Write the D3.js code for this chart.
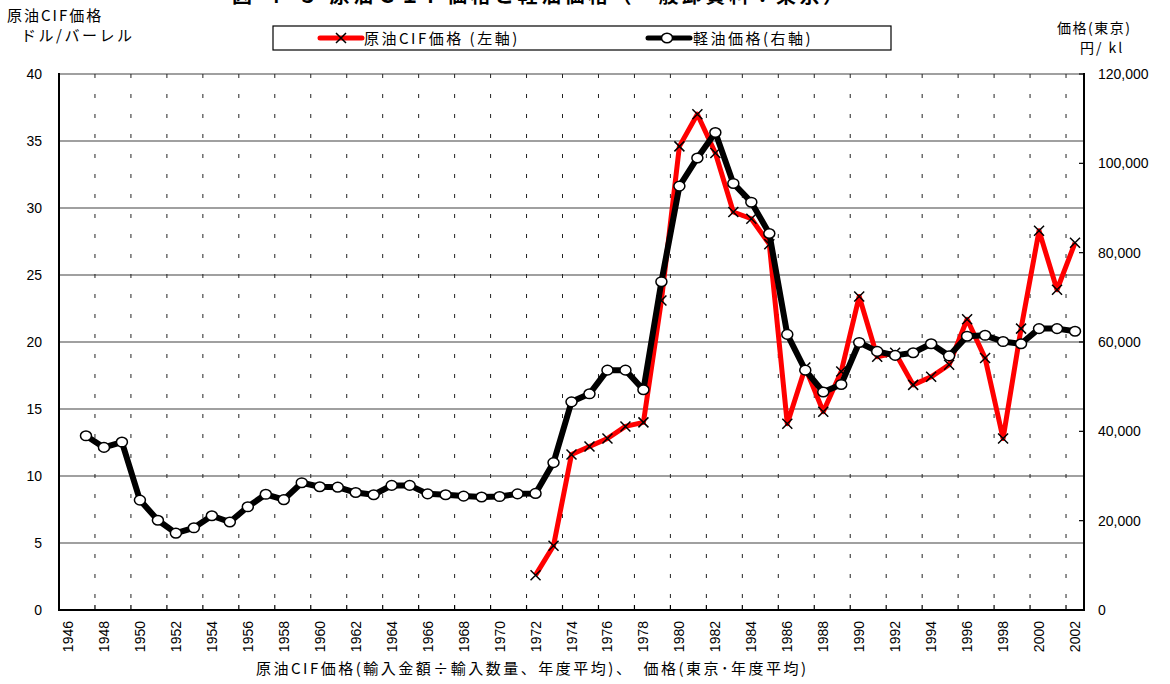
<!DOCTYPE html>
<html lang="ja">
<head>
<meta charset="UTF-8">
<title>原油CIF価格と軽油価格</title>
<style>
  body { margin: 0; background: #fff; }
  .jp { font-family: "Noto Sans CJK JP", sans-serif; fill: #000; }
  .num { font-family: "Liberation Sans", Arial, sans-serif; fill: #000; font-size: 14px; }
</style>
</head>
<body>
<svg id="chart" width="1170" height="684"></svg>
<script src="https://d3js.org/d3.v7.min.js"></script>
<script>
// categories: fiscal years 1946-2002
var years = d3.range(1946, 2003);

// 原油CIF価格 (ドル/バーレル, left axis), 1972-2002
var crudeYears = d3.range(1972, 2003);
var crudeValues = [2.6, 4.8, 11.6, 12.2, 12.8, 13.7, 14.0, 23.1, 34.6, 37.0,
    34.1, 29.7, 29.2, 27.3, 13.9, 18.1, 14.8, 17.8, 23.4, 18.9,
    19.2, 16.8, 17.4, 18.3, 21.7, 18.8, 12.8, 21.0, 28.3, 23.9, 27.4];

// 軽油価格 (円/kl, right axis), 1947-2002
var dieselYears = d3.range(1947, 2003);
var dieselValues = [39000, 36400, 37600, 24600, 20100, 17200, 18400, 21100, 19700, 23100,
    25900, 24700, 28500, 27600, 27500, 26300, 25800, 27900, 27900, 26000,
    25800, 25500, 25300, 25400, 26000, 26100, 33000, 46600, 48400, 53700,
    53700, 49300, 73500, 94900, 101200, 106900, 95500, 91300, 84300, 61700,
    53700, 48800, 50500, 59900, 57900, 57000, 57600, 59600, 56900, 61300,
    61500, 60100, 59600, 63000, 63000, 62400];

var leftTicks = [0, 5, 10, 15, 20, 25, 30, 35, 40];
var rightTicks = [0, 20000, 40000, 60000, 80000, 100000, 120000];

var svg = d3.select("#chart");
var plotL = 59, plotR = 1084, plotT = 74, plotB = 610;

var x = d3.scaleBand().domain(years).range([plotL, plotR]).padding(0);
var yL = d3.scaleLinear().domain([0, 40]).range([plotB, plotT]);
var yR = d3.scaleLinear().domain([0, 120000]).range([plotB, plotT]);
var cx = d => x(d) + x.bandwidth() / 2;

// title (cut off at the top edge)
svg.append("text").attr("class", "jp")
    .attr("x", 232).attr("y", 3)
    .style("font-size", "20px").style("font-weight", "bold").style("letter-spacing", "3.5px")
    .text("図 ４-５ 原油ＣＩＦ価格と軽油価格（一般卸資料：東京）");

// horizontal grid
svg.append("g").selectAll("line")
    .data(leftTicks.filter(d => d > 0))
    .enter().append("line")
    .attr("x1", plotL).attr("x2", plotR)
    .attr("y1", d => yL(d)).attr("y2", d => yL(d))
    .attr("stroke", "#808080").attr("stroke-width", 1.5);

// vertical dashed grid every two years
var evenYears = years.filter((d, i) => i % 2 === 0);
svg.append("g").selectAll("line")
    .data(evenYears.slice(1))
    .enter().append("line")
    .attr("x1", d => x(d)).attr("x2", d => x(d))
    .attr("y1", plotT).attr("y2", plotB)
    .attr("stroke", "#222").attr("stroke-width", 1)
    .attr("stroke-dasharray", "4,16");

// axes lines
svg.append("line").attr("x1", plotL).attr("x2", plotL).attr("y1", plotT - 1).attr("y2", plotB + 1)
    .attr("stroke", "#000").attr("stroke-width", 2);
svg.append("line").attr("x1", plotR).attr("x2", plotR).attr("y1", plotT - 1).attr("y2", plotB + 1)
    .attr("stroke", "#000").attr("stroke-width", 2);
svg.append("line").attr("x1", plotL).attr("x2", plotR).attr("y1", plotB).attr("y2", plotB)
    .attr("stroke", "#000").attr("stroke-width", 2);

// bottom tick marks (inside)
svg.append("g").selectAll("line")
    .data(evenYears)
    .enter().append("line")
    .attr("x1", d => x(d)).attr("x2", d => x(d))
    .attr("y1", plotB).attr("y2", plotB - 5)
    .attr("stroke", "#000").attr("stroke-width", 1.2);

// right tick marks (inside)
svg.append("g").selectAll("line")
    .data(rightTicks)
    .enter().append("line")
    .attr("x1", plotR).attr("x2", plotR - 5)
    .attr("y1", d => yR(d)).attr("y2", d => yR(d))
    .attr("stroke", "#000").attr("stroke-width", 1.2);

// x labels
svg.append("g").selectAll("text")
    .data(evenYears)
    .enter().append("text").attr("class", "num")
    .attr("transform", d => "translate(" + (cx(d) + 5) + "," + (plotB + 11) + ") rotate(-90)")
    .attr("text-anchor", "end")
    .text(d => d);

// left labels
svg.append("g").selectAll("text")
    .data(leftTicks)
    .enter().append("text").attr("class", "num")
    .attr("x", 42).attr("y", d => yL(d) + 5)
    .attr("text-anchor", "end")
    .text(d => d);

// right labels
svg.append("g").selectAll("text")
    .data(rightTicks)
    .enter().append("text").attr("class", "num")
    .attr("x", 1098).attr("y", d => yR(d) + 5)
    .text(d => d3.format(",")(d));

// series
var crude = crudeYears.map((d, i) => ({ year: d, value: crudeValues[i] }));
var diesel = dieselYears.map((d, i) => ({ year: d, value: dieselValues[i] }));

svg.append("path").datum(crude)
    .attr("fill", "none").attr("stroke", "#ff0000").attr("stroke-width", 5)
    .attr("stroke-linejoin", "round")
    .attr("d", d3.line().x(d => cx(d.year)).y(d => yL(d.value)));

svg.append("path").datum(diesel)
    .attr("fill", "none").attr("stroke", "#000").attr("stroke-width", 6)
    .attr("stroke-linejoin", "round")
    .attr("d", d3.line().x(d => cx(d.year)).y(d => yR(d.value)));

var cross = "M-5,-5L5,5M-5,5L5,-5";
svg.append("g").selectAll("path")
    .data(crude)
    .enter().append("path")
    .attr("transform", d => "translate(" + cx(d.year) + "," + yL(d.value) + ")")
    .attr("d", cross).attr("stroke", "#000").attr("stroke-width", 1.5).attr("fill", "none");

svg.append("g").selectAll("ellipse")
    .data(diesel)
    .enter().append("ellipse")
    .attr("cx", d => cx(d.year)).attr("cy", d => yR(d.value))
    .attr("rx", 5.5).attr("ry", 4.8)
    .attr("fill", "#fff").attr("stroke", "#000").attr("stroke-width", 1.5);

// legend
var lg = svg.append("g");
lg.append("rect").attr("x", 273).attr("y", 26).attr("width", 618).attr("height", 24)
    .attr("fill", "#fff").attr("stroke", "#000").attr("stroke-width", 1.2);
lg.append("line").attr("x1", 320).attr("x2", 362).attr("y1", 38).attr("y2", 38)
    .attr("stroke", "#ff0000").attr("stroke-width", 5).attr("stroke-linecap", "round");
lg.append("path").attr("transform", "translate(341,38)").attr("d", cross)
    .attr("stroke", "#000").attr("stroke-width", 1.5);
lg.append("text").attr("class", "jp").attr("x", 364).attr("y", 44)
    .style("font-size", "15px").style("letter-spacing", "2.5px")
    .text("原油CIF価格 (左軸)");
lg.append("line").attr("x1", 648).attr("x2", 690).attr("y1", 38).attr("y2", 38)
    .attr("stroke", "#000").attr("stroke-width", 5).attr("stroke-linecap", "round");
lg.append("ellipse").attr("cx", 667).attr("cy", 38).attr("rx", 5.5).attr("ry", 4.8)
    .attr("fill", "#fff").attr("stroke", "#000").attr("stroke-width", 1.5);
lg.append("text").attr("class", "jp").attr("x", 693).attr("y", 44)
    .style("font-size", "15px").style("letter-spacing", "2.5px")
    .text("軽油価格(右軸)");

// axis titles
svg.append("text").attr("class", "jp").attr("x", 7).attr("y", 21)
    .style("font-size", "15px").style("letter-spacing", "2px").text("原油CIF価格");
svg.append("text").attr("class", "jp").attr("x", 21).attr("y", 41)
    .style("font-size", "15px").style("letter-spacing", "2.5px").text("ドル/バーレル");
svg.append("text").attr("class", "jp").attr("x", 1057).attr("y", 33)
    .style("font-size", "14px").style("letter-spacing", "1.5px").text("価格(東京)");
svg.append("text").attr("class", "jp").attr("x", 1080).attr("y", 53)
    .style("font-size", "14px").style("letter-spacing", "2px").text("円/ kl");

// bottom caption
svg.append("text").attr("class", "jp").attr("x", 256).attr("y", 674)
    .style("font-size", "15px").style("letter-spacing", "2.5px")
    .text("原油CIF価格(輸入金額÷輸入数量、年度平均)、　価格(東京･年度平均)");
</script>
</body>
</html>
